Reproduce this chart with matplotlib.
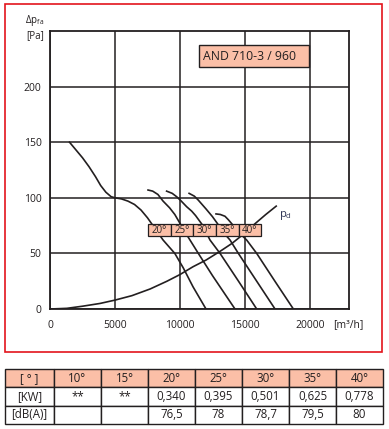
import matplotlib
matplotlib.use("Agg")
import matplotlib.pyplot as plt
from matplotlib.patches import Rectangle

plt.rcParams["font.family"] = ["Open Sans", "DejaVu Sans"]
plt.rcParams["mathtext.fontset"] = "custom"
plt.rcParams["mathtext.rm"] = "Open Sans"
plt.rcParams["mathtext.it"] = "Open Sans"

INK = "#231f20"
SALMON = "#fbbfa7"
RED = "#e3141c"
W, H = 389, 429

# fan curves: air flow [m3/h] vs static pressure [Pa], one per blade angle
q20 = [1500, 2000, 2500, 3000, 3500, 3900, 4300, 4700, 5000, 5500, 6000, 6500, 7000, 7500,
       8100, 8700, 9600, 10250, 11000, 11500, 12000]
p20 = [150, 143, 136, 128, 119, 111, 105, 101, 100, 99, 97, 94, 89, 82,
       72, 62, 50, 37, 20, 10, 0]
q25 = [7540, 7900, 8300, 8700, 9200, 9600, 10000, 10500, 10770, 11410, 12500, 14230]
p25 = [107, 106, 103, 97, 91, 85, 77, 67, 62, 50, 30, 0]
q30 = [8970, 9400, 9740, 10100, 10510, 10900, 11200, 11700, 12310, 13080, 14500, 15900]
p30 = [106, 104, 101, 97, 92, 88, 84, 76, 62, 50, 25, 0]
q35 = [10700, 11100, 11400, 11700, 12000, 12500, 12900, 13400, 13850, 14490, 15900, 17310]
p35 = [104, 101.5, 98, 94, 90, 83, 76.5, 68, 62, 50, 25, 0]
q40 = [12770, 13100, 13460, 13700, 13850, 14100, 14600, 15130, 15900, 17300, 18720]
p40 = [85.5, 85, 83.4, 80.5, 78.5, 75, 68, 62, 50, 25, 0]
angles = ["20°", "25°", "30°", "35°", "40°"]

# dynamic pressure curve
qd = [0, 1300, 2500, 3850, 5000, 6300, 7700, 9000, 10000, 11000, 12000, 13100, 14000, 14700, 15800, 16600, 17400]
pdyn = [0, 0.6, 2.5, 5, 8, 12, 18, 25, 31, 38, 44, 52, 59, 65.6, 77, 85, 92.5]

xticks = [0, 5000, 10000, 15000, 20000]
yticks = [0, 50, 100, 150, 200]

tbl_head = ["[ ° ]", "10°", "15°", "20°", "25°", "30°", "35°", "40°"]
tbl_kw = ["[KW]", "**", "**", "0,340", "0,395", "0,501", "0,625", "0,778"]
tbl_db = ["[dB(A)]", "", "", "76,5", "78", "78,7", "79,5", "80"]


def fx(px):
    return px / W


def fy(py):
    return 1 - py / H


fig = plt.figure(figsize=(W / 100, H / 100), dpi=100)

# red frame around the chart
fig.add_artist(Rectangle((fx(5), fy(352)), (382 - 5) / W, (352 - 4) / H,
                         transform=fig.transFigure, fill=False, ec=RED, lw=1.2))

ax = fig.add_axes([fx(50), fy(309), (349 - 50) / W, (309 - 31) / H])
ax.set_xlim(0, 23000)
ax.set_ylim(0, 250)
ax.set_xticks(xticks)
ax.set_xticklabels([str(v) for v in xticks])
ax.set_yticks(yticks)
ax.set_yticklabels([str(v) for v in yticks])
ax.tick_params(length=0, labelsize=7.5, colors=INK)
ax.tick_params(axis="x", pad=8)
ax.tick_params(axis="y", pad=6)
ax.grid(True, color=INK, lw=1.1)
ax.set_axisbelow(True)
for s in ax.spines.values():
    s.set_color(INK)
    s.set_linewidth(1.3)

for q, p in [(q20, p20), (q25, p25), (q30, p30), (q35, p35), (q40, p40)]:
    ax.plot(q, p, color=INK, lw=1.2, zorder=3, solid_joinstyle="round")
ax.plot(qd, pdyn, color=INK, lw=1.2, zorder=3, solid_joinstyle="round")
ax.text(17600, 84, r"$\mathrm{p_d}$", fontsize=8, color="#2f3555", va="center")

# blade angle tags
x0, cw = 7540, 1740
for i, a in enumerate(angles):
    ax.add_patch(Rectangle((x0 + i * cw, 65.6), cw, 10.8, fc=SALMON, ec=INK, lw=0.9, zorder=5))
    ax.text(x0 + (i + 0.5) * cw, 71, a, ha="center", va="center", fontsize=7, color=INK, zorder=6)

# model tag
fig.add_artist(Rectangle((fx(199), fy(67)), 110 / W, 22 / H, transform=fig.transFigure,
                         fc=SALMON, ec=INK, lw=1.0))
fig.text(fx(203), fy(56.5), "AND 710-3 / 960", fontsize=8.8, color=INK, va="center")

fig.text(fx(35), fy(21), r"$\Delta\mathrm{p_{fa}}$", fontsize=7, color=INK, ha="center", va="center")
fig.text(fx(35), fy(36), "[Pa]", fontsize=7, color=INK, ha="center", va="center")
fig.text(fx(348), fy(325), "[m³/h]", fontsize=7.5, color=INK, ha="center", va="center")

# data table below the chart
tax = fig.add_axes([fx(5), fy(424), 378 / W, 55 / H])
tax.axis("off")
widths = [49] + [47] * 7
tot = sum(widths)
tbl = tax.table(cellText=[tbl_kw, tbl_db], colLabels=tbl_head, cellLoc="center",
                colWidths=[w / tot for w in widths], bbox=[0, 0, 1, 1])
tbl.auto_set_font_size(False)
tbl.set_fontsize(8.3)
for (r, c), cell in tbl.get_celld().items():
    cell.set_edgecolor(INK)
    cell.set_linewidth(1.0)
    cell.get_text().set_color(INK)
    if r == 0:
        cell.set_facecolor(SALMON)

fig.savefig("out.png", dpi=100)
